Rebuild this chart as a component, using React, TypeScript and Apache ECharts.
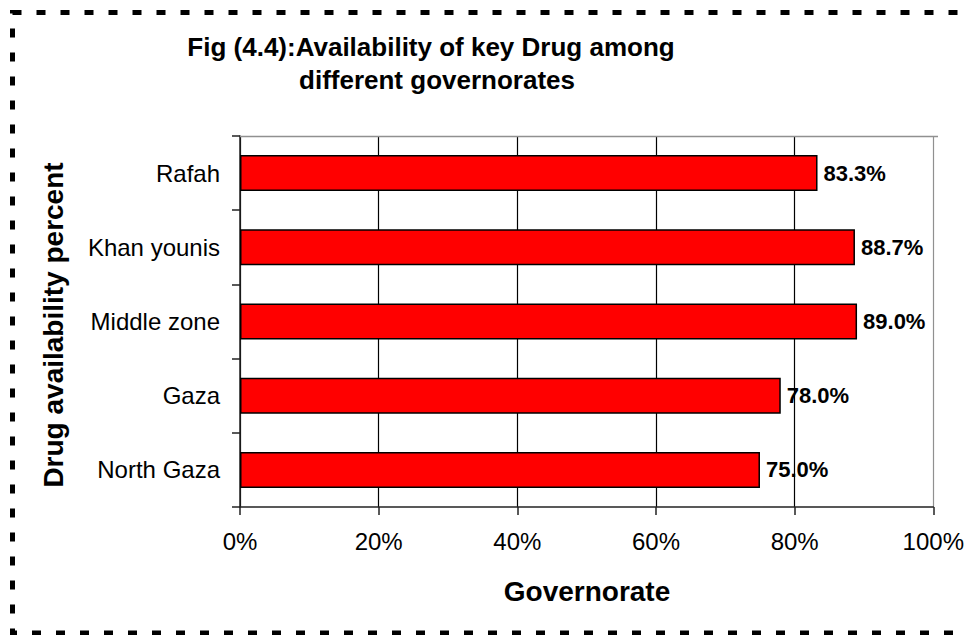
import React, { useEffect, useRef } from "react";
import * as echarts from "echarts";

const categories = ["North Gaza", "Gaza", "Middle zone", "Khan younis", "Rafah"];
const values = [75.0, 78.0, 89.0, 88.7, 83.3];
const xTicks = [0, 20, 40, 60, 80, 100];
const titleLines = ["Fig (4.4):Availability of key Drug among", "different governorates"];
const xAxisTitle = "Governorate";
const yAxisTitle = "Drug availability percent";

const FONT = "'Liberation Sans', Arial, Helvetica, sans-serif";

export default function App() {
  const ref = useRef<HTMLDivElement>(null);
  useEffect(() => {
    if (!ref.current) return;
    const chart = echarts.init(ref.current, null, { renderer: "svg" });
    chart.setOption({
      animation: false,
      backgroundColor: "#ffffff",
      grid: { left: 240, right: 29, top: 136, bottom: 128, containLabel: false },
      xAxis: {
        type: "value",
        min: xTicks[0],
        max: xTicks[xTicks.length - 1],
        interval: 20,
        axisLine: { show: true, lineStyle: { color: "#222", width: 1.5 } },
        axisTick: { show: true, length: 8, inside: false, lineStyle: { color: "#222", width: 1.5 } },
        axisLabel: {
          formatter: (v: number) => v + "%",
          fontFamily: FONT,
          fontSize: 24,
          color: "#000",
          margin: 22,
        },
        splitLine: {
          show: true,
          lineStyle: { color: ["#000", "#000", "#000", "#000", "#000", "#909090"], width: 1.2 },
        },
      },
      yAxis: {
        type: "category",
        data: categories,
        axisLine: { show: true, lineStyle: { color: "#222", width: 1.5 } },
        axisTick: { show: true, length: 8, lineStyle: { color: "#222", width: 1.5 } },
        axisLabel: { fontFamily: FONT, fontSize: 24, color: "#000", margin: 20 },
        splitLine: { show: false },
      },
      series: [
        {
          type: "bar",
          data: values,
          barWidth: 36,
          itemStyle: { color: "#ff0000", borderColor: "#000", borderWidth: 1.5 },
          label: {
            show: true,
            position: "right",
            distance: 6,
            formatter: (p: any) => Number(p.value).toFixed(1) + "%",
            fontFamily: FONT,
            fontSize: 22,
            fontWeight: "bold",
            color: "#000",
          },
        },
      ],
      graphic: [
        {
          type: "line",
          shape: { x1: 240, y1: 136.5, x2: 938, y2: 136.5 },
          style: { stroke: "#909090", lineWidth: 1.5 },
          z: 5,
        },
        {
          type: "rect",
          shape: { x: 12.5, y: 12.5, width: 1000, height: 620.5 },
          style: { fill: "none", stroke: "#000", lineWidth: 5, lineDash: [9, 15] },
          z: 10,
        },
        {
          type: "text",
          x: 431,
          y: 47,
          style: {
            text: titleLines[0],
            fontFamily: FONT,
            fontSize: 26,
            fontWeight: "bold",
            fill: "#000",
            textAlign: "center",
            textVerticalAlign: "middle",
          },
        },
        {
          type: "text",
          x: 437,
          y: 80,
          style: {
            text: titleLines[1],
            fontFamily: FONT,
            fontSize: 26,
            fontWeight: "bold",
            fill: "#000",
            textAlign: "center",
            textVerticalAlign: "middle",
          },
        },
        {
          type: "text",
          x: 587,
          y: 591,
          style: {
            text: xAxisTitle,
            fontFamily: FONT,
            fontSize: 28,
            fontWeight: "bold",
            fill: "#000",
            textAlign: "center",
            textVerticalAlign: "middle",
          },
        },
        {
          type: "text",
          x: 53,
          y: 325,
          rotation: Math.PI / 2,
          style: {
            text: yAxisTitle,
            fontFamily: FONT,
            fontSize: 28,
            fontWeight: "bold",
            fill: "#000",
            textAlign: "center",
            textVerticalAlign: "middle",
          },
        },
      ],
    });
    return () => chart.dispose();
  }, []);
  return (
    <div
      ref={ref}
      style={{ position: "absolute", left: 0, top: 0, width: 967, height: 635, background: "#fff" }}
    />
  );
}
